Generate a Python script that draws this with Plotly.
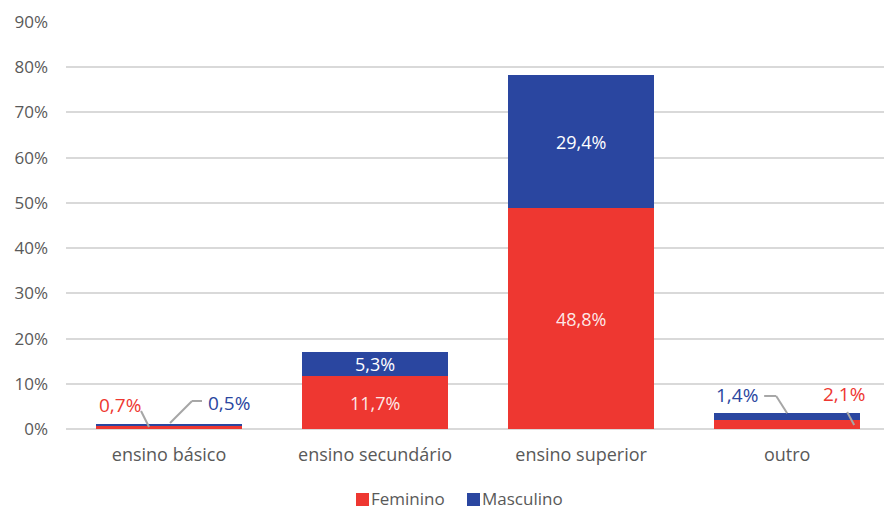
import plotly.graph_objects as go

# --- data -------------------------------------------------------------
categories = ["ensino básico", "ensino secundário", "ensino superior", "outro"]
feminino = [0.7, 11.7, 48.8, 2.1]
masculino = [0.5, 5.3, 29.4, 1.4]
y_tick_values = list(range(0, 91, 10))
series_names = ["Feminino", "Masculino"]

# --- style ------------------------------------------------------------
RED = "#EE3731"
BLUE = "#2A46A0"
TEXT_GRAY = "#595959"
GRID = "#D9D9D9"
LEADER = "#A6A6A6"
FONT = "Open Sans"

W, H = 884, 512
ML, MR, MT, MB = 66, 0, 22, 83
X_RANGE = [-0.5, 3.47]
Y_RANGE = [0, 90]
PX_X = (W - ML - MR) / (X_RANGE[1] - X_RANGE[0])
PX_Y = (H - MT - MB) / (Y_RANGE[1] - Y_RANGE[0])


def fmt(v):
    return f"{v:.1f}".replace(".", ",") + "%"


def dx(px):
    return px / PX_X


def dy(px):
    # positive px = downward on screen
    return -px / PX_Y


def paper_x(px):
    return (px - ML) / (W - ML - MR)


def paper_y(py):
    return (H - MB - py) / (H - MT - MB)


xs = list(range(len(categories)))
totals = [f + m for f, m in zip(feminino, masculino)]

fig = go.Figure()
fig.add_trace(go.Bar(x=xs, y=feminino, name=series_names[0], marker_color=RED,
                     marker_line_width=0, showlegend=False))
fig.add_trace(go.Bar(x=xs, y=masculino, name=series_names[1], marker_color=BLUE,
                     marker_line_width=0, showlegend=False))

annotations = []
shapes = []

# labels inside the larger segments
big = [1, 2]
for i in big:
    annotations.append(dict(x=xs[i], y=feminino[i] / 2, text=fmt(feminino[i]),
                            showarrow=False, font=dict(color="rgba(255,255,255,0.9)", size=18, family=FONT)))
    annotations.append(dict(x=xs[i], y=feminino[i] + masculino[i] / 2, text=fmt(masculino[i]),
                            showarrow=False, font=dict(color="white", size=18, family=FONT)))

# outside labels with leader lines for the thin bars
outside = [
    # (index, value, color, label offset px, leader points px relative to bar top)
    (0, feminino[0], RED, (-49, -18.6), [(-28, -12.6), (-20, 3.4)]),
    (0, masculino[0], BLUE, (60, -20.6), [(33, -22.6), (23, -22.6), (1, -0.6)]),
    (3, masculino[3], BLUE, (-50, -18), [(-23, -17.2), (-11, -17.2), (0, 0)]),
    (3, feminino[3], RED, (57, -19), [(60, -1.2), (67, 11.8)]),
]
for i, v, color, (lx, ly), pts in outside:
    top = totals[i]
    annotations.append(dict(x=xs[i] + dx(lx), y=top + dy(ly), text=fmt(v), showarrow=False,
                            font=dict(color=color, size=19, family=FONT)))
    for (x0, y0), (x1, y1) in zip(pts[:-1], pts[1:]):
        shapes.append(dict(type="line", xref="x", yref="y",
                           x0=xs[i] + dx(x0), y0=top + dy(y0),
                           x1=xs[i] + dx(x1), y1=top + dy(y1),
                           line=dict(color=LEADER, width=2), layer="above"))

# legend drawn as squares + text
legend_items = [(series_names[0], RED, 356), (series_names[1], BLUE, 467)]
for name, color, left in legend_items:
    shapes.append(dict(type="rect", xref="paper", yref="paper",
                       x0=paper_x(left), x1=paper_x(left + 13),
                       y0=paper_y(506), y1=paper_y(493),
                       fillcolor=color, line_width=0))
    annotations.append(dict(xref="paper", yref="paper", x=paper_x(left + 14), y=paper_y(511.5),
                            xanchor="left", yanchor="bottom", text=name, showarrow=False,
                            borderpad=0,
                            font=dict(color=TEXT_GRAY, size=17, family=FONT)))

fig.update_layout(
    barmode="stack",
    bargap=0.29,
    width=W, height=H,
    margin=dict(l=ML, r=MR, t=MT, b=MB, pad=0),
    paper_bgcolor="white",
    plot_bgcolor="white",
    font=dict(family=FONT, color=TEXT_GRAY, size=16),
    annotations=annotations,
    shapes=shapes,
    showlegend=False,
    xaxis=dict(range=X_RANGE, tickvals=xs, ticktext=categories, showgrid=False,
               zeroline=False, showline=False, ticks="", ticklabelstandoff=13,
               tickfont=dict(size=18, color=TEXT_GRAY), fixedrange=True),
    yaxis=dict(range=Y_RANGE, tickvals=y_tick_values,
               ticktext=[f"{t}%" for t in y_tick_values],
               showgrid=True, gridcolor=GRID, gridwidth=1.5,
               zeroline=True, zerolinecolor=GRID, zerolinewidth=2,
               showline=False, ticks="", ticklabelstandoff=17,
               tickfont=dict(size=17, color=TEXT_GRAY), fixedrange=True),
)

fig.write_html("out.html", config={"displayModeBar": False})
